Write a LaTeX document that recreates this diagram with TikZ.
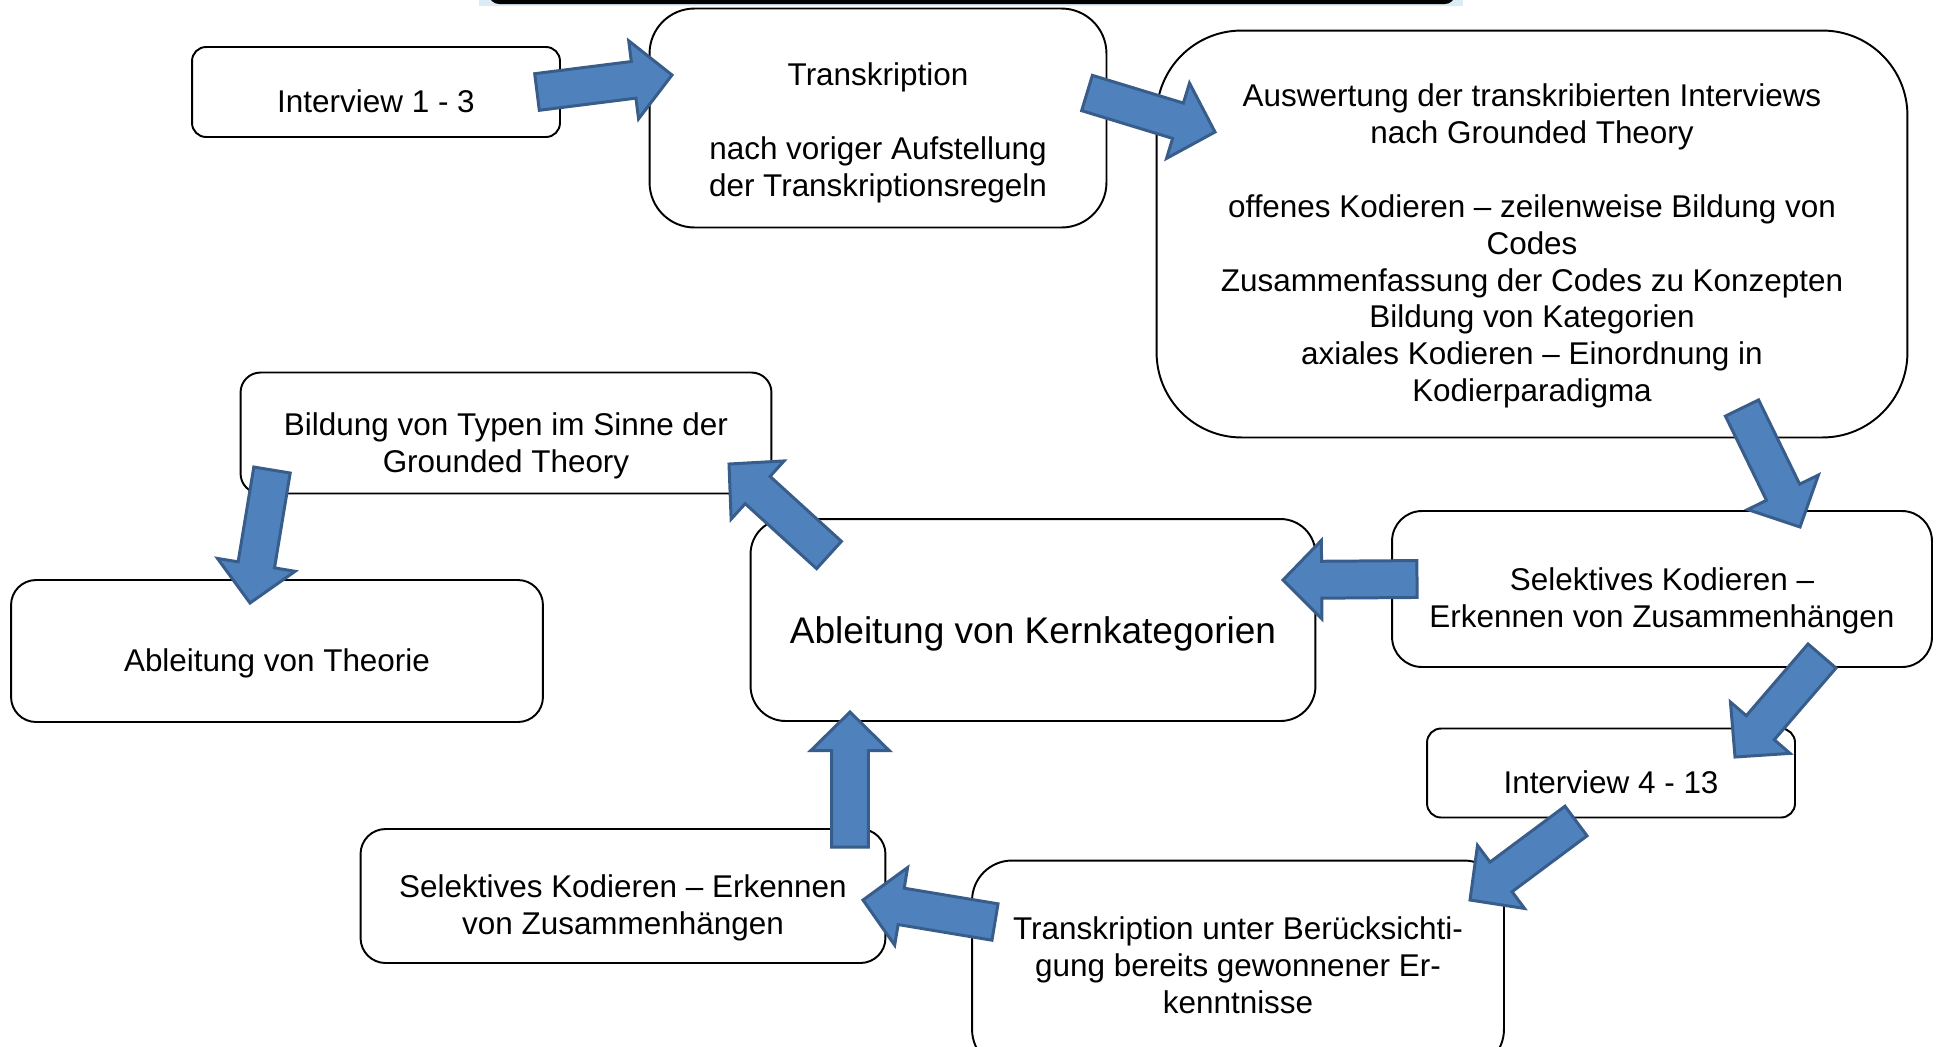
\documentclass[tikz,border=0pt]{standalone}
\usepackage{fontspec}
\setmainfont{Liberation Sans}
\usetikzlibrary{calc}
\definecolor{flowfill}{RGB}{79,129,189}
\definecolor{flowline}{RGB}{56,93,138}
\definecolor{barblue}{RGB}{219,236,247}

% block arrow from tail #1 to tip #2
\newcommand{\flowarrow}[2]{%
  \draw[flow] ($(#1)!10.5pt!90:(#2)$) -- ($(#2)!24.4pt!-25.5:(#1)$)
    -- ($(#2)!31.4pt!-45.5:(#1)$) -- (#2) -- ($(#2)!31.4pt!45.5:(#1)$)
    -- ($(#2)!24.4pt!25.5:(#1)$) -- ($(#1)!10.5pt!-90:(#2)$) -- cycle;}
% pushes the text of a box a little down
\newcommand{\topgap}[1]{\rule{0pt}{#1}}

\begin{document}
\begin{tikzpicture}[x=0.02cm, y=-0.02cm,
          stage/.style={draw, line width=1.1pt, fill=white, align=center,
            inner sep=0pt, font=\fontsize{17.9}{21}\selectfont},
          flow/.style={fill=flowfill, draw=flowline, line width=1.7pt}]
          \useasboundingbox (0,0) rectangle (1936,1046);

          % bar at the top edge
          \fill[barblue] (479,0) rectangle (1463,6);
          \fill[black, rounded corners=0.2cm] (489,-40) rectangle (1455,4);

          % Stages
          \node[stage, minimum width=7.36cm, minimum height=1.8cm, rounded corners=0.28cm] (int1) at (376,92)
            {\topgap{23pt}Interview 1 - 3};
          \node[stage, minimum width=9.14cm, minimum height=4.38cm, rounded corners=0.9cm] (trans) at (878,118)
            {\topgap{30pt}Transkription\\[21pt]nach voriger Aufstellung\\der Transkriptionsregeln};
          \node[stage, minimum width=15.02cm, minimum height=8.14cm, rounded corners=1.7cm] (ausw) at (1532,234)
            {\topgap{26.6pt}Auswertung der transkribierten Interviews\\nach Grounded Theory\\[21pt]
             offenes Kodieren -- zeilenweise Bildung von\\Codes\\Zusammenfassung der Codes zu Konzepten\\
             Bildung von Kategorien\\axiales Kodieren -- Einordnung in\\Kodierparadigma};
          \node[stage, minimum width=10.62cm, minimum height=2.42cm, rounded corners=0.4cm] (typen) at (506,433)
            {\topgap{28pt}Bildung von Typen im Sinne der\\Grounded Theory};
          \node[stage, minimum width=10.64cm, minimum height=2.84cm, rounded corners=0.5cm] (theo) at (277,651)
            {\topgap{26.6pt}Ableitung von Theorie};
          \node[stage, minimum width=11.3cm, minimum height=4.04cm, rounded corners=0.7cm,
            font=\fontsize{21.1}{25}\selectfont] (kern) at (1033,620) {\topgap{30.8pt}Ableitung von Kernkategorien};
          \node[stage, minimum width=10.8cm, minimum height=3.12cm, rounded corners=0.6cm] (sel1) at (1662,589)
            {\topgap{26.6pt}Selektives Kodieren --\\Erkennen von Zusammenhängen};
          \node[stage, minimum width=7.36cm, minimum height=1.78cm, rounded corners=0.28cm] (int2) at (1611,773)
            {\topgap{23pt}Interview 4 - 13};
          \node[stage, minimum width=10.5cm, minimum height=2.68cm, rounded corners=0.5cm] (sel2) at (623,896)
            {\topgap{26.6pt}Selektives Kodieren -- Erkennen\\von Zusammenhängen};
          \node[stage, minimum width=10.64cm, minimum height=4.18cm, rounded corners=0.8cm] (trunter) at (1238,965)
            {Transkription unter Berücksichti-\\gung bereits gewonnener Er-\\kenntnisse};

          % Arrow ends
          \coordinate (t1) at (537,92);   \coordinate (h1) at (672,75);
          \coordinate (t2) at (1087,93);  \coordinate (h2) at (1215,132);
          \coordinate (t3) at (1742,408); \coordinate (h3) at (1800,527);
          \coordinate (t4) at (1417,579); \coordinate (h4) at (1283,580);
          \coordinate (t5) at (1822,656); \coordinate (h5) at (1735,757);
          \coordinate (t6) at (1576,821); \coordinate (h6) at (1470,900);
          \coordinate (t7) at (995,922);  \coordinate (h7) at (863,900);
          \coordinate (t8) at (850,847);  \coordinate (h8) at (850,712);
          \coordinate (t9) at (829,555);  \coordinate (h9) at (729,464);
          \coordinate (t10) at (272,470); \coordinate (h10) at (250,603);

          % Arrows
          \flowarrow{t1}{h1}
          \flowarrow{t2}{h2}
          \flowarrow{t3}{h3}
          \flowarrow{t4}{h4}
          \flowarrow{t5}{h5}
          \flowarrow{t6}{h6}
          \flowarrow{t7}{h7}
          \flowarrow{t8}{h8}
          \flowarrow{t9}{h9}
          \flowarrow{t10}{h10}
        \end{tikzpicture}
\end{document}
